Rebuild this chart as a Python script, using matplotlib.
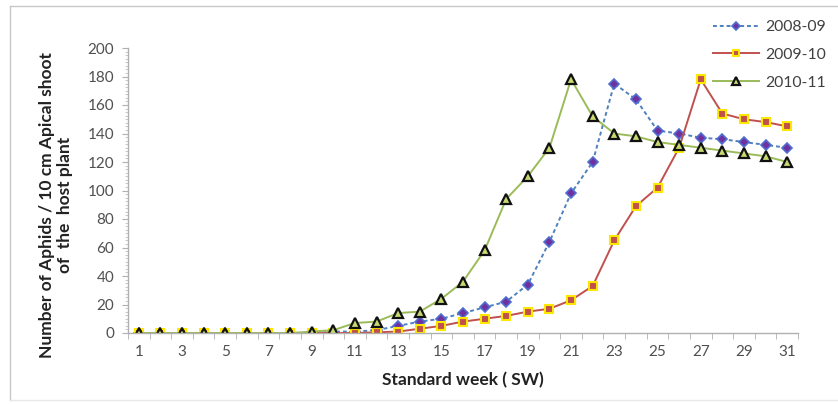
import matplotlib
matplotlib.use("Agg")
import matplotlib.pyplot as plt
from matplotlib.ticker import MultipleLocator, FixedLocator
from matplotlib.lines import Line2D

weeks = list(range(1, 32))
s2008 = [0, 0, 0, 0, 0, 0, 0, 0, 0, 1, 1, 2, 5, 8, 10, 14, 18, 22, 34, 64,
         98, 120, 175, 164, 142, 140, 137, 136, 134, 132, 130]
s2009 = [0, 0, 0, 0, 0, 0, 0, 0, 0, 0, 0, 0.5, 1, 3, 5, 8, 10, 12, 15, 17,
         23, 33, 65, 89, 102, 130, 178, 154, 150, 148, 145]
s2010 = [0, 0, 0, 0, 0, 0, 0, 0, 1, 2, 7, 8, 14, 15, 24, 36, 58, 94, 110, 130,
         178, 152, 140, 138, 134, 132, 130, 128, 126, 124, 120]
labels = ["2008-09", "2009-10", "2010-11"]
xtick_labels = [str(w) for w in range(1, 32, 2)]
yticks = list(range(0, 201, 20))

plt.rcParams['font.family'] = ['Lato', 'DejaVu Sans']

fig = plt.figure(figsize=(8.38, 4.04), dpi=100)
W, H = 838, 404
# chart-area frame (top, left, bottom)
fig.lines.append(Line2D([10 / W, 1.0], [1 - 6 / H, 1 - 6 / H], transform=fig.transFigure,
                        color='#c8c8c8', linewidth=1.0))
fig.lines.append(Line2D([10 / W, 10 / W], [1 - 6 / H, 1 - 400 / H], transform=fig.transFigure,
                        color='#c8c8c8', linewidth=1.0))
fig.lines.append(Line2D([10 / W, 1.0], [1 - 400 / H, 1 - 400 / H], transform=fig.transFigure,
                        color='#e8e8e8', linewidth=1.0))

ax = fig.add_axes([128 / W, 1 - 333 / H, (798 - 128) / W, (333 - 48) / H])

ax.plot(weeks, s2008, linestyle=(0, (2, 1.5)), color='#4F81BD', linewidth=1.4,
        marker='D', markersize=5, markerfacecolor='#7030A0',
        markeredgecolor='#4F6FD0', markeredgewidth=1.2, label=labels[0])
ax.plot(weeks, s2009, linestyle='-', color='#C0504D', linewidth=1.4,
        marker='s', markersize=5.5, markerfacecolor='#C0504D',
        markeredgecolor='#FFE800', markeredgewidth=1.5, label=labels[1])
ax.plot(weeks, s2010, linestyle='-', color='#9BBB59', linewidth=1.4,
        marker='^', markersize=6.5, markerfacecolor='#C8D870',
        markeredgecolor='#111111', markeredgewidth=1.6, label=labels[2])

ax.set_xlim(0.5, 31.5)
ax.set_ylim(0, 200)
ax.set_xticks(list(range(1, 32, 2)))
ax.set_xticklabels(xtick_labels)
ax.xaxis.set_minor_locator(FixedLocator([w + 0.5 for w in range(0, 32)]))
ax.set_yticks(yticks)
ax.yaxis.set_minor_locator(MultipleLocator(2.5))

for side in ['top', 'right']:
    ax.spines[side].set_visible(False)
for side in ['left', 'bottom']:
    ax.spines[side].set_color('#b0b0b0')
    ax.spines[side].set_linewidth(1.0)

ax.tick_params(axis='x', which='major', length=0, labelsize=11,
               labelcolor='#505050', pad=9)
ax.tick_params(axis='x', which='minor', length=4, color='#b0b0b0', direction='out')
ax.tick_params(axis='y', which='major', length=4, color='#b0b0b0',
               labelsize=11, labelcolor='#505050', pad=6)
ax.tick_params(axis='y', which='minor', length=2.5, color='#c0c0c0')

ax.set_xlabel("Standard week ( SW)", fontsize=12.5, fontweight='bold',
              color='#222222', labelpad=9)
fig.text(56 / W, 1 - 205 / H, "Number of Aphids / 10 cm Apical shoot\nof  the  host plant",
         rotation=90, ha='center', va='center', fontsize=12.5,
         fontweight='bold', color='#222222', linespacing=1.1)

leg = fig.legend(loc='upper left', bbox_to_anchor=(713 / W, 1 - 20 / H),
                 frameon=False, fontsize=11.3, handlelength=2.9,
                 borderpad=0, borderaxespad=0,
                 labelspacing=0.88, handletextpad=0.4, labelcolor='#404040')
for h in leg.legend_handles:
    h.set_markersize(h.get_markersize() * 0.85)

fig.savefig("out.png", dpi=100)
